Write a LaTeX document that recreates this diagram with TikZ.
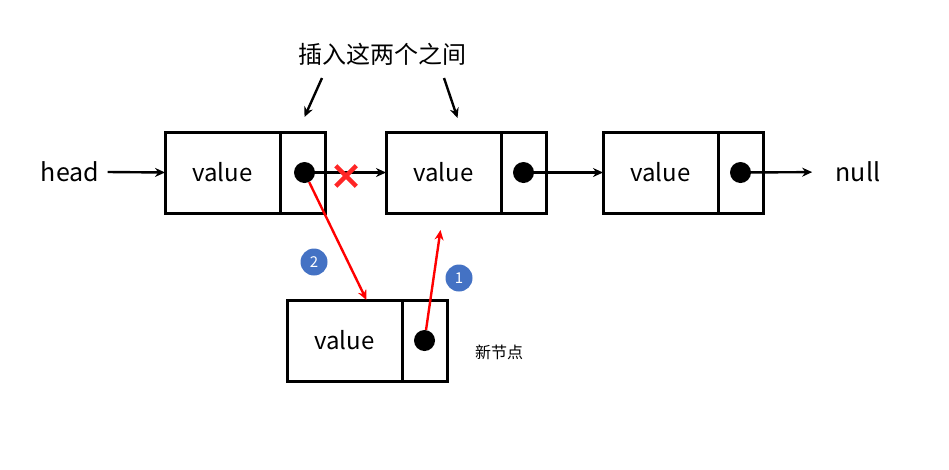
\documentclass[tikz,border=0pt]{standalone}
\usepackage{fontspec}
\setmainfont{Noto Sans CJK SC}
\usepackage{xcolor}
\usetikzlibrary{arrows.meta,positioning,shapes.misc}
\definecolor{badgeblue}{HTML}{4472C4}

\begin{document}
\begin{tikzpicture}[x=1pt,y=-1pt,
	valbox/.style={draw, line width=3pt, minimum width=115pt, minimum height=81pt,
		inner sep=0pt, outer sep=0pt, font=\fontsize{24}{28}\selectfont},
	ptrbox/.style={draw, line width=3pt, minimum width=45pt, minimum height=81pt,
		inner sep=0pt, outer sep=0pt},
	dot/.style={circle, fill=black, minimum size=21pt, inner sep=0pt},
	link/.style={-{Stealth[length=10pt,width=9pt]}, line width=2.4pt},
	redlink/.style={link, red},
	badge/.style={circle, fill=badgeblue, text=white, minimum size=27pt, inner sep=0pt,
		font=\fontsize{15}{17}\selectfont},
	word/.style={font=\fontsize{25}{29}\selectfont}
]
	\useasboundingbox (0,0) rectangle (949,469);

	% the list
	\node[valbox] (val1) at (222.5,172.5) {value};
	\node[ptrbox, right=0pt of val1] (ptr1) {};
	\node[valbox, right=61pt of ptr1] (val2) {value};
	\node[ptrbox, right=0pt of val2] (ptr2) {};
	\node[valbox, right=57pt of ptr2] (val3) {value};
	\node[ptrbox, right=0pt of val3] (ptr3) {};
	\node[dot] (dot1) at ([xshift=2pt]ptr1) {};
	\node[dot] (dot2) at (ptr2) {};
	\node[dot] (dot3) at (ptr3) {};

	% the new node
	\node[valbox] (val4) at (344.5,340.5) {value};
	\node[ptrbox, right=0pt of val4] (ptr4) {};
	\node[dot] (dot4) at (ptr4) {};
	\node[font=\fontsize{16}{18}\selectfont] (newlbl) at (499,352) {新节点};

	\node[word] (head) at (70,172) {head};
	\node[word] (null) at (858,172) {null};
	\node[font=\fontsize{24}{28}\selectfont] (note) at (382,54) {插入这两个之间};
	\coordinate (pick1) at (322,78);
	\coordinate (pick2) at (444,78);

	\draw[link] ([xshift=5pt]head.east) -- (val1.west);
	\draw[link] (dot1) -- (val2.west);
	\draw[link] (dot2) -- (val3.west);
	\draw[link, shorten >=20pt] (dot3) -- (null.west);
	\draw[link] (pick1) -- ([xshift=2pt,yshift=15pt]ptr1.north);
	\draw[link] (pick2) -- ([xshift=14pt,yshift=14pt]val2.north);

	% broken link
	\node[cross out, draw=red!85!white, line width=4.5pt, minimum size=16pt, inner sep=0pt]
		(cut) at (346,176) {};

	% steps
	\draw[redlink] (dot4) -- ([xshift=-3pt,yshift=-17pt]val2.south);
	\draw[redlink] (dot1) -- ([xshift=22pt]val4.north);
	\node[badge] (b1) at (459,278) {1};
	\node[badge] (b2) at (314,262) {2};
\end{tikzpicture}
\end{document}
